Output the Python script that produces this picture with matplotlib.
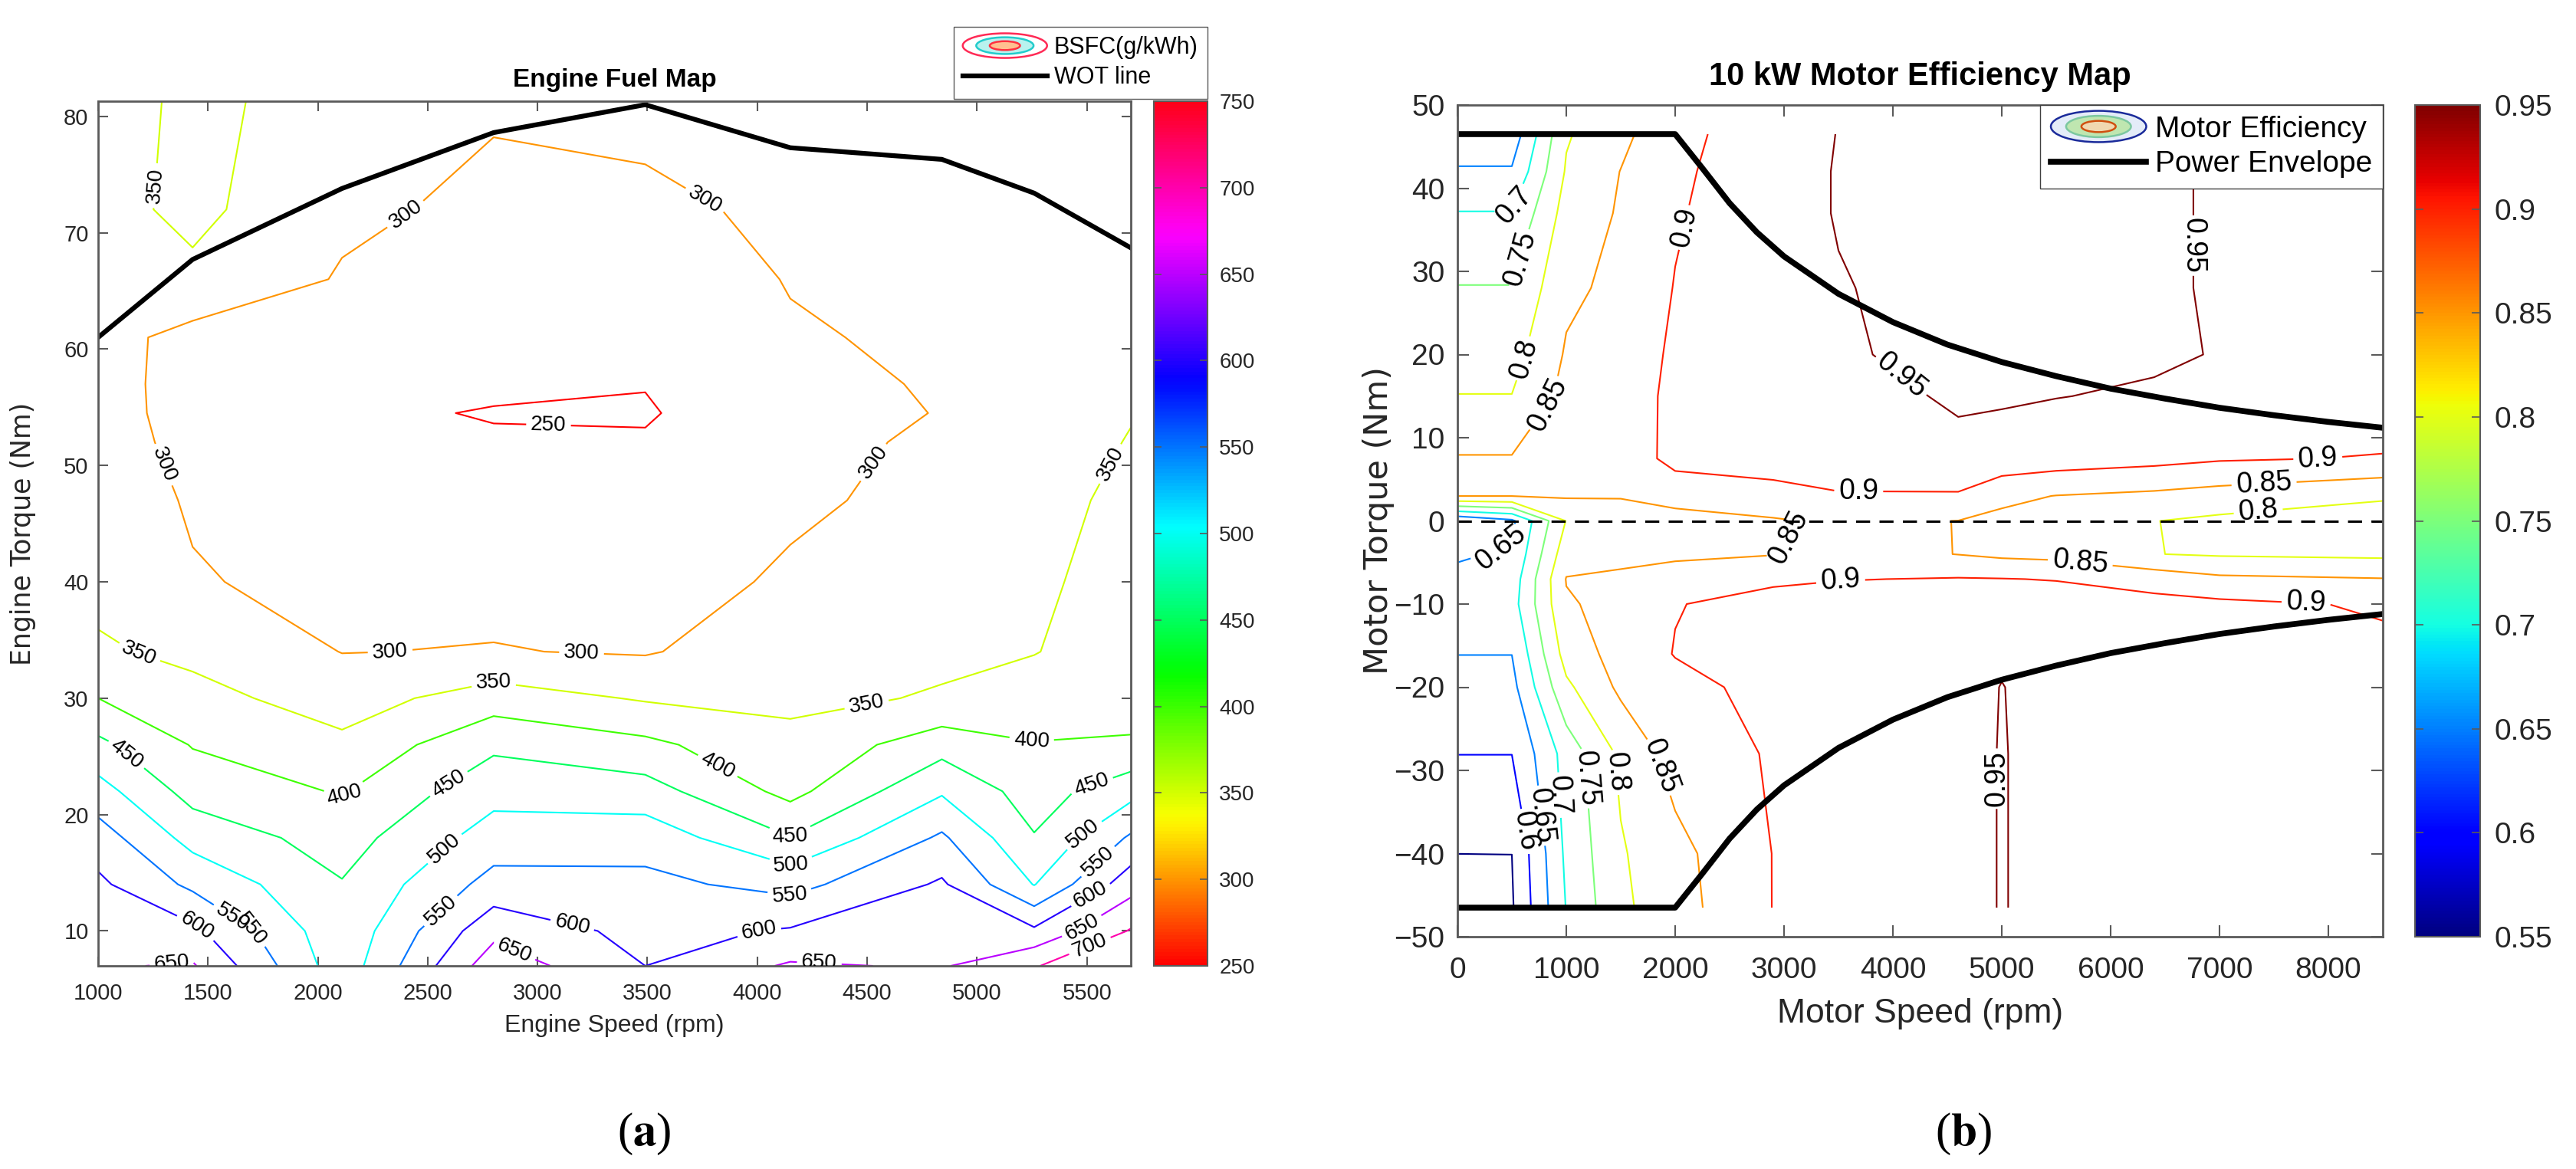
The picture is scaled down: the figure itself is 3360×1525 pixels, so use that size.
import numpy as np
import matplotlib
matplotlib.use("Agg")
import matplotlib.pyplot as plt
import matplotlib as mpl
from matplotlib.lines import Line2D
from matplotlib.patches import Ellipse
from matplotlib.legend_handler import HandlerBase

mpl.rcParams['font.family'] = ['Liberation Sans', 'DejaVu Sans']
mpl.rcParams['mathtext.fontset'] = 'stix'

###########################################################
# (a) engine fuel map

eng_speed = [1000, 1430, 2110, 2800, 3490, 4150, 4840, 5260, 5700]
eng_torque = [7, 10, 14, 18, 22, 26, 30, 34, 40, 47, 52, 54.5, 57, 61, 66, 72, 81.3]
# one row per torque value, one column per speed
bsfc = [
    [645, 655, 470, 680, 600, 656, 645, 697, 745],
    [630, 612, 463, 635, 584, 605, 626, 609, 704],
    [610, 539, 453, 568, 563, 533, 607, 498, 629],
    [574, 482, 428, 523, 529, 452, 558, 453, 557],
    [520, 431, 396, 483, 471, 385, 494, 427, 483],
    [462, 397, 361, 440, 412, 360, 430, 402, 405],
    [400, 366, 327, 375, 345, 342, 353, 375, 382],
    [357, 338, 299, 302, 296, 329, 343, 348, 378],
    [335, 303, 289, 287, 285, 305, 331, 340, 372],
    [322, 296, 277, 271, 267, 294, 310, 333, 362],
    [318, 288, 269, 259, 255, 291, 305, 330, 352],
    [316, 285, 265, 245, 245, 290, 301, 328, 348],
    [316, 284, 267, 266, 252, 291, 303, 327, 346],
    [318, 284, 280, 272, 262, 296, 307, 326, 344],
    [324, 340, 296, 280, 275, 302, 312, 327, 343],
    [333, 362, 309, 290, 290, 309, 318, 330, 342],
    [319, 365, 323, 305, 314, 320, 325, 335, 340],
]
bsfc_levels = [250, 300, 350, 400, 450, 500, 550, 600, 650, 700]
wot_speed = [1000, 1430, 2110, 2800, 3490, 4150, 4840, 5260, 5700]
wot_torque = [61.0, 67.7, 73.8, 78.6, 81.0, 77.3, 76.3, 73.4, 68.7]

###########################################################
# (b) 10 kW motor efficiency map

mot_speed = [0, 500, 1000, 1500, 2000, 2900, 3500, 4600, 5000, 5500, 6400, 7000, 8500]
mot_torque = [-46.5, -40, -28, -20, -16, -10, -7, -4, 0, 3, 7.5, 15, 20, 28, 37, 42, 46.5]
eff = [
    [0.530, 0.545, 0.702, 0.790, 0.830, 0.901, 0.930, 0.935, 0.952, 0.935, 0.930, 0.930, 0.925],
    [0.5501, 0.5501, 0.710, 0.795, 0.835, 0.901, 0.930, 0.935, 0.952, 0.935, 0.930, 0.930, 0.925],
    [0.6005, 0.6005, 0.720, 0.810, 0.870, 0.905, 0.930, 0.935, 0.952, 0.935, 0.930, 0.930, 0.925],
    [0.635, 0.635, 0.790, 0.860, 0.885, 0.915, 0.930, 0.935, 0.951, 0.935, 0.930, 0.925, 0.920],
    [0.6505, 0.6505, 0.820, 0.870, 0.902, 0.920, 0.930, 0.935, 0.945, 0.935, 0.925, 0.920, 0.910],
    [0.670, 0.680, 0.845, 0.865, 0.898, 0.915, 0.925, 0.930, 0.930, 0.925, 0.915, 0.910, 0.895],
    [0.660, 0.672, 0.852, 0.860, 0.875, 0.893, 0.898, 0.903, 0.9015, 0.898, 0.880, 0.860, 0.852],
    [0.645, 0.655, 0.830, 0.835, 0.840, 0.848, 0.870, 0.849, 0.840, 0.835, 0.801, 0.795, 0.790],
    [0.605, 0.640, 0.802, 0.810, 0.830, 0.845, 0.858, 0.8495, 0.840, 0.830, 0.801, 0.790, 0.780],
    [0.851, 0.851, 0.855, 0.855, 0.870, 0.885, 0.895, 0.895, 0.860, 0.849, 0.840, 0.830, 0.805],
    [0.853, 0.853, 0.870, 0.870, 0.915, 0.920, 0.935, 0.940, 0.935, 0.925, 0.915, 0.905, 0.897],
    [0.801, 0.801, 0.865, 0.868, 0.915, 0.925, 0.935, 0.955, 0.954, 0.951, 0.945, 0.935, 0.935],
    [0.782, 0.782, 0.855, 0.865, 0.910, 0.928, 0.946, 0.960, 0.960, 0.958, 0.956, 0.948, 0.935],
    [0.752, 0.752, 0.840, 0.862, 0.902, 0.930, 0.948, 0.962, 0.962, 0.960, 0.956, 0.946, 0.935],
    [0.702, 0.702, 0.820, 0.855, 0.895, 0.935, 0.952, 0.962, 0.962, 0.960, 0.956, 0.946, 0.930],
    [0.655, 0.655, 0.805, 0.851, 0.890, 0.935, 0.952, 0.962, 0.962, 0.960, 0.956, 0.946, 0.930],
    [0.620, 0.620, 0.795, 0.838, 0.885, 0.930, 0.951, 0.960, 0.960, 0.958, 0.956, 0.946, 0.930],
]
eff_levels = [0.55, 0.6, 0.65, 0.7, 0.75, 0.8, 0.85, 0.9, 0.95]
env_speed = [0, 2000, 2250, 2500, 2750, 3000, 3500, 4000, 4500, 5000, 5500, 6000, 6500, 7000, 7500, 8000, 8500]
env_torque = [46.5, 46.5, 42.4, 38.2, 34.7, 31.8, 27.3, 23.9, 21.2, 19.1, 17.4, 15.9, 14.7, 13.6, 12.7, 11.9, 11.2]


class EllipseIcon(HandlerBase):
    # contour-like legend key (nested ellipses)
    def __init__(self, rings):
        HandlerBase.__init__(self)
        self.rings = rings

    def create_artists(self, legend, orig_handle, xdescent, ydescent,
                       width, height, fontsize, trans):
        cx = 0.5 * width - xdescent
        cy = 0.5 * height - ydescent
        arts = []
        for k, (ec, fc) in enumerate(self.rings):
            f = 1.0 - 0.32 * k
            arts.append(Ellipse((cx, cy), width * f, height * 1.5 * f, facecolor=fc,
                                edgecolor=ec, lw=1.8, transform=trans))
        return arts


def style_axes(ax, lsize, xpad, ypad, tlen):
    for s in ax.spines.values():
        s.set_color('#5a5a5a')
        s.set_linewidth(2)
    ax.tick_params(direction='in', top=True, right=True, length=tlen, width=1.5,
                   colors='#5a5a5a', labelcolor='#262626', labelsize=lsize)
    ax.tick_params(axis='x', pad=xpad)
    ax.tick_params(axis='y', pad=ypad)


W, H = 3360.0, 1525.0
fig = plt.figure(figsize=(33.6, 15.25), dpi=100)

# ---------------- (a) ----------------
ax1 = fig.add_axes([128 / W, 1 - 1260 / H, 1347 / W, 1128 / H])
cax1 = fig.add_axes([1505 / W, 1 - 1260 / H, 70 / W, 1128 / H])

norm1 = mpl.colors.Normalize(vmin=250, vmax=750)
X1, Y1 = np.meshgrid(eng_speed, eng_torque)
cs1 = ax1.contour(X1, Y1, np.array(bsfc), levels=bsfc_levels, cmap='hsv', norm=norm1,
                  linewidths=1.5)
ax1.plot(wot_speed, wot_torque, color='k', lw=4.5, solid_joinstyle='miter')

lab1 = [(1290, 74), (2420, 71), (3720, 71.5), (3050, 53.6), (1290, 50), (4700, 48),
        (5620, 50), (2330, 33.5), (3200, 33.8), (1180, 33.5), (2800, 31.6), (4500, 29.2),
        (2130, 21.5), (2600, 22.5), (3800, 23.5), (1100, 24.5), (5250, 26.5), (4146, 17.7),
        (2580, 17.0), (4161, 15.3), (2580, 11.3), (4146, 12.8), (3139, 9.0), (4011, 9.3),
        (2898, 8.4), (4282, 7.2), (1335, 7.3), (1425, 9.7), (1575, 10.1), (1680, 10.8),
        (5530, 22.1), (5484, 18.3), (5544, 16.1), (5514, 13.2), (5454, 11.1), (5514, 8.7)]
t1 = ax1.clabel(cs1, fmt='%d', manual=lab1, inline=True, inline_spacing=6, fontsize=20,
                colors='k')

ax1.set_xlim(1000, 5700)
ax1.set_ylim(7, 81.3)
ax1.set_xticks(range(1000, 5501, 500))
ax1.set_yticks(range(10, 81, 10))
style_axes(ax1, 21, 16, 9, 9)
ax1.set_title('Engine Fuel Map', fontsize=24, fontweight='bold', pad=14)
ax1.set_xlabel('Engine Speed (rpm)', fontsize=23, color='#262626')
ax1.xaxis.set_label_coords(0.5, -0.056)
ax1.set_ylabel('Engine Torque (Nm)', fontsize=25, color='#262626', family='DejaVu Sans')
ax1.yaxis.set_label_coords(-0.060, 0.5)

cb1 = fig.colorbar(mpl.cm.ScalarMappable(norm=norm1, cmap='hsv'), cax=cax1,
                   ticks=range(250, 751, 50))
cb1.outline.set_edgecolor('#5a5a5a')
cb1.outline.set_linewidth(1.5)
cax1.tick_params(direction='in', length=7, width=1.2, colors='#5a5a5a', labelcolor='#262626',
                 labelsize=20, pad=11, left=True, right=True)

h_bsfc = Line2D([], [])
h_wot = Line2D([], [], color='k', lw=4.5)
fig.legend([h_bsfc, h_wot], ['BSFC(g/kWh)', 'WOT line'],
           handler_map={h_bsfc: EllipseIcon([('#ff2a55', 'white'), ('#22cccc', '#b8f2ee'),
                                             ('#ff3040', '#ffc090')])},
           loc='upper right', bbox_to_anchor=(1575 / W, 1 - 35 / H), fontsize=22,
           fancybox=False, edgecolor='#5a5a5a', framealpha=1, handlelength=3.6,
           handletextpad=0.3, borderpad=0.4, labelspacing=0.3, borderaxespad=0)

# ---------------- (b) ----------------
ax2 = fig.add_axes([1901 / W, 1 - 1222 / H, 1207 / W, 1085 / H])
cax2 = fig.add_axes([3150 / W, 1 - 1222 / H, 85 / W, 1085 / H])

norm2 = mpl.colors.Normalize(vmin=0.55, vmax=0.95)
X2, Y2 = np.meshgrid(mot_speed, mot_torque)
cs2 = ax2.contour(X2, Y2, np.array(eff), levels=eff_levels, cmap='jet', norm=norm2,
                  linewidths=1.5)
ax2.plot(env_speed, env_torque, color='k', lw=5.5)
ax2.plot(env_speed, [-t for t in env_torque], color='k', lw=5.5)
ax2.axhline(0, color='k', lw=2.2, ls=(0, (6, 4)))

lab2 = [(452, 38.3), (507, 31.8), (616, 19.5), (781, 14.4), (2150, 35.1), (3876, 14.4),
        (6808, 33.1), (3685, 2.7), (7903, 7.6), (7410, 4.3), (7356, 1.1), (397, -3.1),
        (3301, -3.7), (3520, -7.3), (5712, -6.0), (7794, -10.2), (1850, -29.6),
        (1384, -30.3), (1110, -31), (890, -33), (726, -35.5), (589, -37.4), (5000, -31)]
t2 = ax2.clabel(cs2, fmt='%g', manual=lab2, inline=True, inline_spacing=6, fontsize=27,
                colors='k')

ax2.set_xlim(0, 8500)
ax2.set_ylim(-50, 50)
ax2.set_xticks(range(0, 8001, 1000))
ax2.set_yticks(range(-50, 51, 10))
style_axes(ax2, 28, 19, 12, 11)
ax2.set_title('10 kW Motor Efficiency Map', fontsize=30, fontweight='bold', pad=19)
ax2.set_xlabel('Motor Speed (rpm)', fontsize=32, color='#262626')
ax2.xaxis.set_label_coords(0.5, -0.074)
ax2.set_ylabel('Motor Torque (Nm)', fontsize=31, color='#262626', family='DejaVu Sans')
ax2.yaxis.set_label_coords(-0.068, 0.5)

cb2 = fig.colorbar(mpl.cm.ScalarMappable(norm=norm2, cmap='jet'), cax=cax2,
                   ticks=eff_levels)
cb2.ax.set_yticklabels(['%g' % v for v in eff_levels])
cb2.outline.set_edgecolor('#5a5a5a')
cb2.outline.set_linewidth(1.5)
cax2.tick_params(direction='in', length=8, width=1.2, colors='#5a5a5a', labelcolor='#262626',
                 labelsize=28, pad=13, left=True, right=True)

h_eff = Line2D([], [])
h_env = Line2D([], [], color='k', lw=5.5)
ax2.legend([h_eff, h_env], ['Motor Efficiency', 'Power Envelope'],
           handler_map={h_eff: EllipseIcon([('#1a2a9a', '#e4ecf8'), ('#7cc8a0', '#bfe6b0'),
                                            ('#d05010', '#f0d8b0')])},
           loc='upper right', bbox_to_anchor=(1, 1), fontsize=28, fancybox=False,
           edgecolor='#404040', framealpha=1, handlelength=3.2, handletextpad=0.3,
           borderpad=0.35, labelspacing=0.25, borderaxespad=0)

fig.text(840 / W, 1 - 1479 / H, r'($\mathbf{a}$)', fontsize=44, ha='center', va='center',
         family='Liberation Serif')
fig.text(2561 / W, 1 - 1479 / H, r'($\mathbf{b}$)', fontsize=44, ha='center', va='center',
         family='Liberation Serif')

fig.savefig('out.png', dpi=100)
